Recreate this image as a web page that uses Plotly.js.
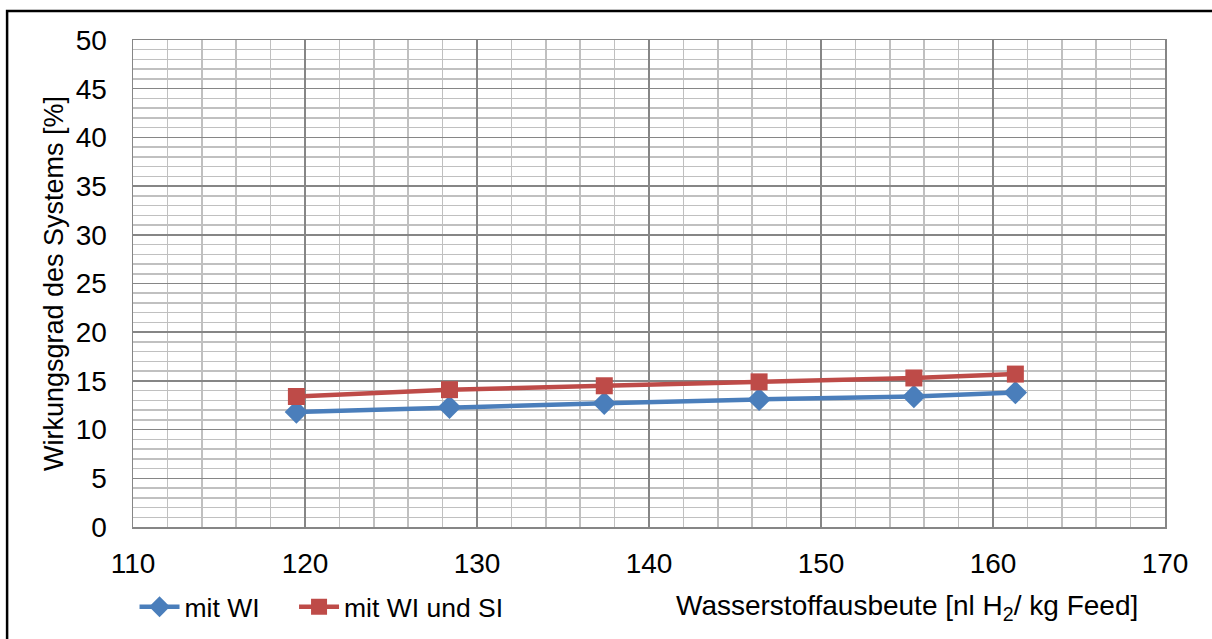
<!DOCTYPE html>
<html>
<head>
<meta charset="utf-8">
<script src="https://cdn.plot.ly/plotly-3.0.1.min.js"></script>
<style>
html,body{margin:0;padding:0;background:#fff;}
#chart{width:1212px;height:639px;}
</style>
</head>
<body>
<div id="chart"></div>
<script>
var xValues = [119.5, 128.4, 137.4, 146.4, 155.4, 161.3];
var seriesWI = [11.8, 12.3, 12.7, 13.1, 13.4, 13.8];
var seriesWISI = [13.4, 14.1, 14.5, 14.9, 15.3, 15.7];
var seriesNames = ["mit WI\u00a0\u00a0\u00a0\u00a0", "mit WI und SI"];
var xTitle = "Wasserstoffausbeute [nl H<sub>2</sub>/ kg Feed]";
var yTitle = "Wirkungsgrad des Systems [%]";

var font = "Liberation Sans, Arial, sans-serif";

var traces = [
  {
    x: xValues, y: seriesWI, name: seriesNames[0], type: "scatter", mode: "lines+markers",
    line: {color: "#4a7ebb", width: 4.5},
    marker: {symbol: "diamond", size: 18, color: "#4a7ebb"}
  },
  {
    x: xValues, y: seriesWISI, name: seriesNames[1], type: "scatter", mode: "lines+markers",
    line: {color: "#be4b48", width: 4.5},
    marker: {symbol: "square", size: 17, color: "#be4b48"}
  }
];

var layout = {
  width: 1212, height: 639,
  margin: {l: 133, r: 47, t: 40, b: 112, autoexpand: false},
  paper_bgcolor: "#fff", plot_bgcolor: "#fff",
  font: {family: font, size: 27, color: "#000"},
  showlegend: true,
  legend: {
    orientation: "h", xref: "container", yref: "container",
    x: 0.111, xanchor: "left", y: 0.05, yanchor: "middle",
    font: {family: font, size: 26.5, color: "#000"}, itemwidth: 40, tracegroupgap: 0,
    bgcolor: "rgba(0,0,0,0)"
  },
  xaxis: {
    range: [110, 170], dtick: 10, tick0: 110, showline: true, mirror: true,
    linecolor: "#868686", linewidth: 1.5, gridcolor: "#868686", gridwidth: 1.5,
    ticks: "", zeroline: false, tickfont: {size: 28, family: font}, ticklabelstandoff: 11,
    minor: {dtick: 2, showgrid: true, gridcolor: "#c0c0c0", gridwidth: 1.5},
    fixedrange: true, automargin: false
  },
  yaxis: {
    range: [0, 50], dtick: 5, tick0: 0, showline: true, mirror: true,
    linecolor: "#868686", linewidth: 1.5, gridcolor: "#868686", gridwidth: 1.5,
    ticks: "", zeroline: false, tickfont: {size: 28, family: font}, ticklabelstandoff: 19,
    minor: {dtick: 1, showgrid: true, gridcolor: "#c0c0c0", gridwidth: 1.5},
    title: {text: yTitle, font: {size: 27, family: font}, standoff: 4},
    fixedrange: true, automargin: false
  },
  annotations: [
    {
      text: xTitle, xref: "paper", yref: "paper", x: 0.75, y: -0.165,
      xanchor: "center", yanchor: "middle", showarrow: false,
      font: {size: 28, family: font, color: "#000"}
    }
  ],
  shapes: [
    {
      type: "rect", xref: "paper", yref: "paper",
      x0: -0.122, x1: 1.2, y0: 1.0595, y1: -0.4,
      line: {color: "#000", width: 2.5}, fillcolor: "rgba(0,0,0,0)", layer: "above"
    }
  ]
};

Plotly.newPlot("chart", traces, layout, {displayModeBar: false, staticPlot: true});
</script>
</body>
</html>
